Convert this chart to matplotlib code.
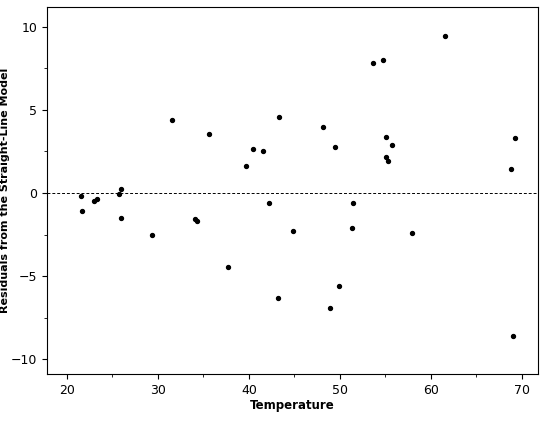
import matplotlib
matplotlib.use("Agg")
import matplotlib.pyplot as plt

temperature = [21.5,21.6,23.0,23.3,25.7,25.9,25.9,29.3,31.6,34.1,34.3,35.6,37.7,39.7,40.5,41.6,42.2,43.3,43.2,44.9,
               48.1,48.9,49.5,49.9,51.3,51.4,53.6,54.8,55.1,55.1,55.3,55.7,57.9,61.6,68.8,69.0,69.3]
residuals = [-0.2,-1.1,-0.5,-0.35,-0.05,0.25,-1.5,-2.5,4.4,-1.55,-1.7,3.55,-4.45,1.6,2.65,2.5,-0.6,4.6,-6.3,-2.3,
             4.0,-6.9,2.75,-5.6,-2.1,-0.6,7.8,8.0,3.4,2.15,1.9,2.9,-2.4,9.45,1.45,-8.6,3.3]

fig = plt.figure(figsize=(5.5,4.25), dpi=100)
ax = fig.add_axes([47/550, 51/425, 491/550, 367/425])
ax.scatter(temperature, residuals, s=8, color='black', marker='o')
ax.axhline(0, color='black', linestyle=(0,(3,2)), linewidth=0.7)
ax.set_xlim(17.8, 71.8)
ax.set_ylim(-10.9, 11.2)
ax.set_xticks([20,30,40,50,60,70])
ax.set_xticks([25,35,45,55,65], minor=True)
ax.set_yticks([-10,-5,0,5,10])
ax.set_yticks([-7.5,-2.5,2.5,7.5], minor=True)
ax.tick_params(labelsize=9)
ax.set_xlabel("Temperature", fontsize=8.5, fontweight='bold', labelpad=2)
ax.set_ylabel("Residuals from the Straight-Line Model", fontsize=8, fontweight='bold', labelpad=1)
fig.savefig("out.png", dpi=100)
